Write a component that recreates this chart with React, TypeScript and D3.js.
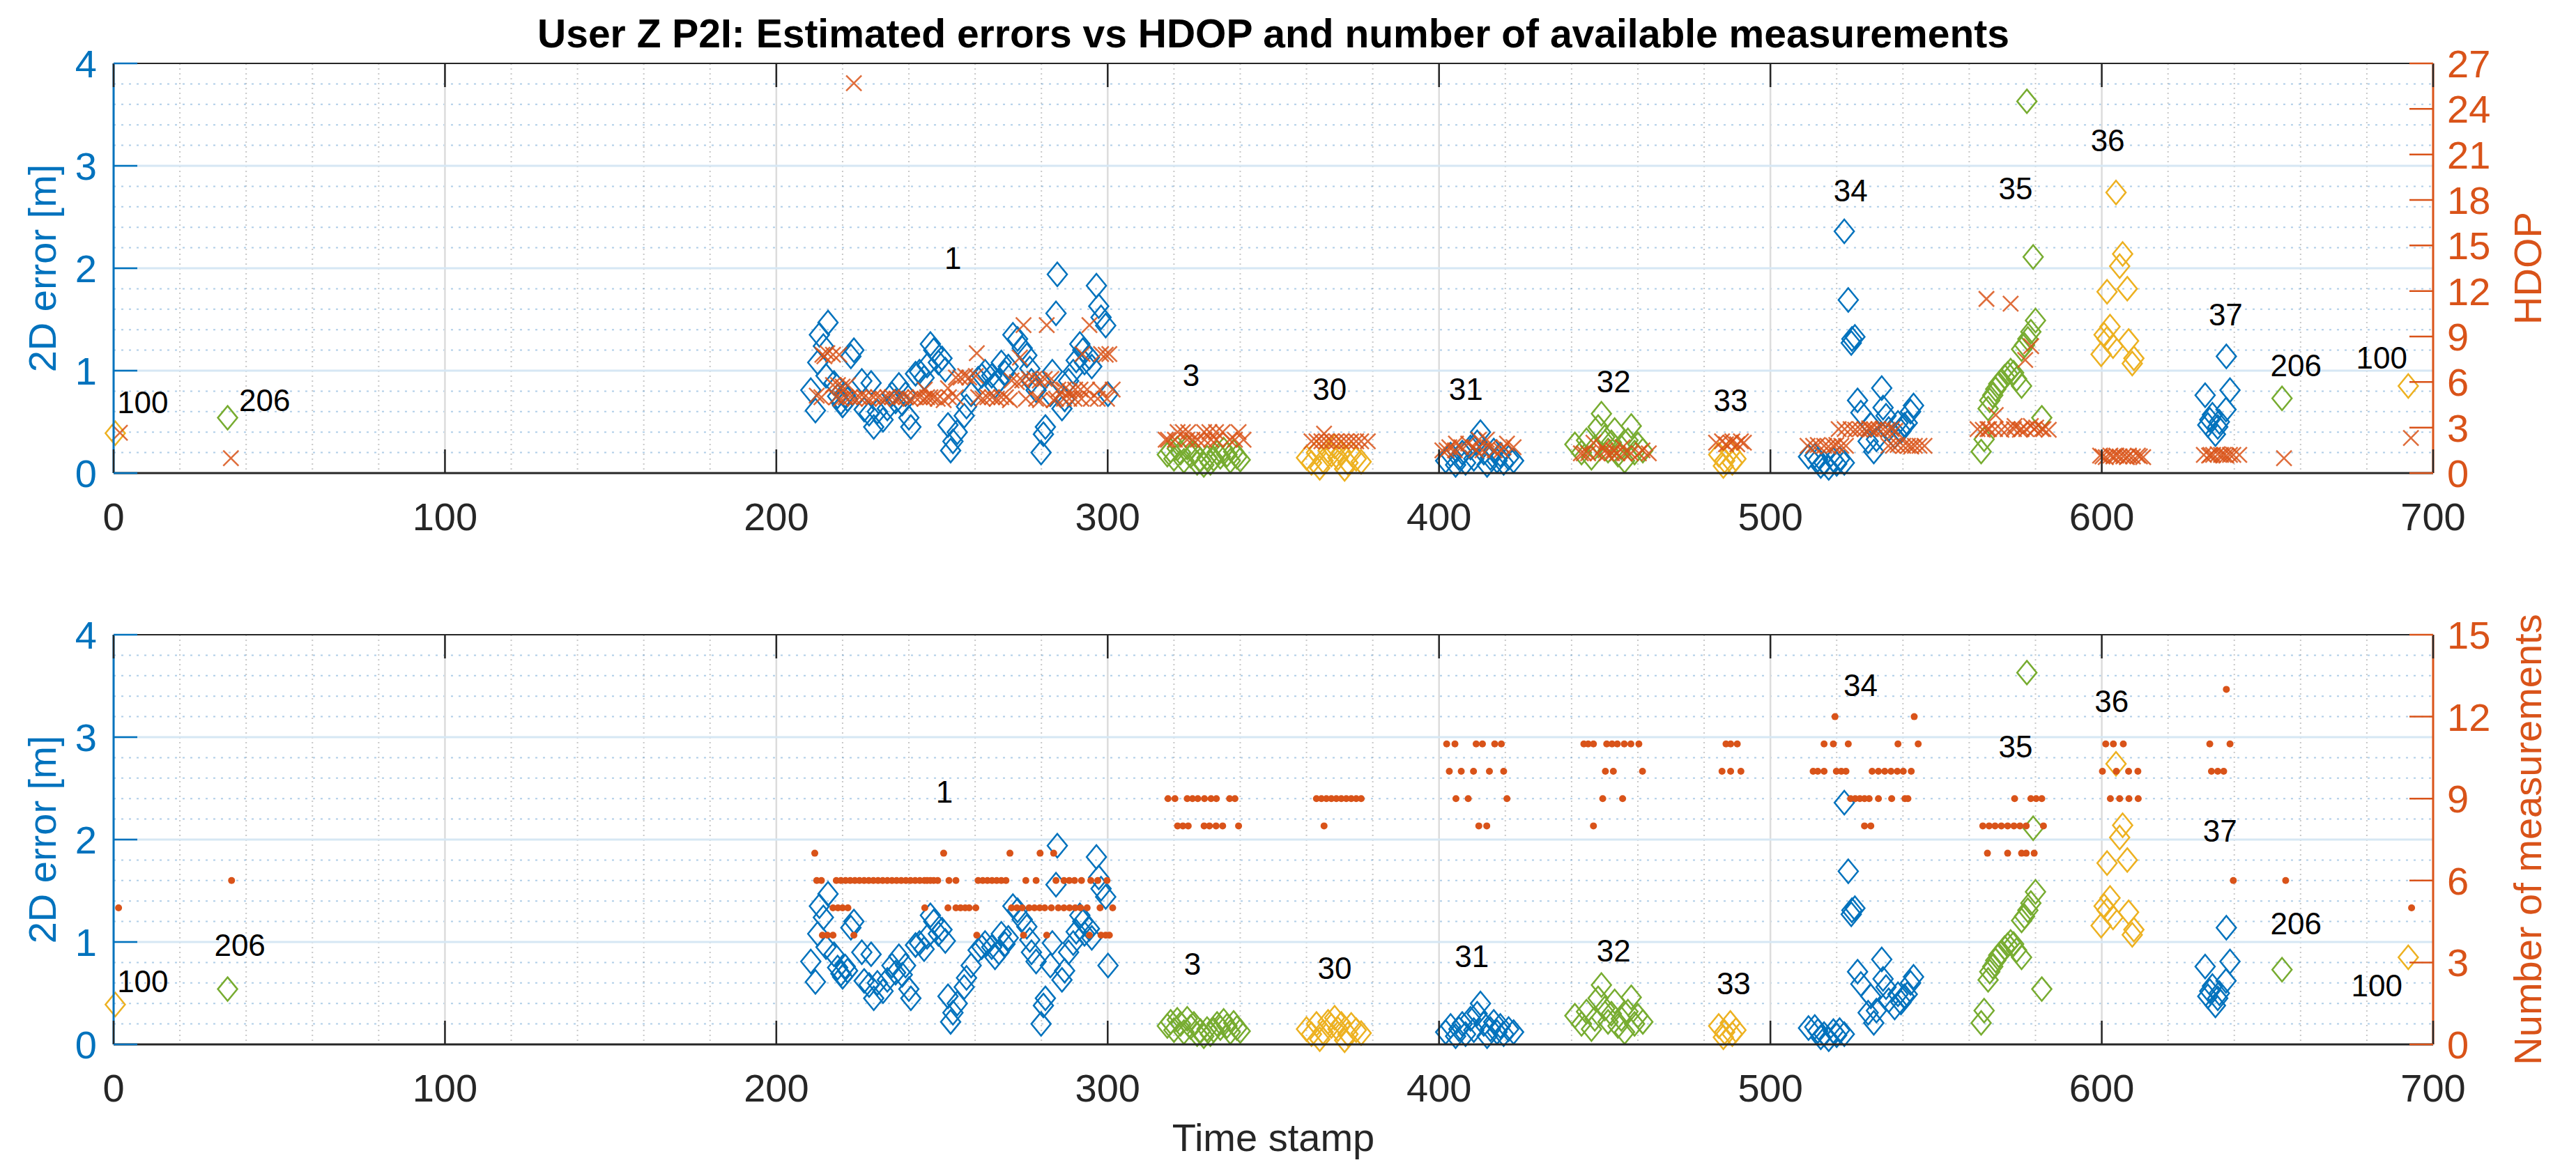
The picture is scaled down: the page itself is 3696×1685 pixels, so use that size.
import * as d3 from 'd3';
import React, { useEffect, useRef } from 'react';

const WIDTH = 3696;
const HEIGHT = 1685;

const TITLE = "User Z P2I: Estimated errors vs HDOP and number of available measurements";
const X_LABEL = "Time stamp";
const Y_LEFT_LABEL = "2D error [m]";
const Y_RIGHT_TOP_LABEL = "HDOP";
const Y_RIGHT_BOTTOM_LABEL = "Number of measurements";

const X_TICKS = [0, 100, 200, 300, 400, 500, 600, 700];
const ERR_TICKS = [0, 1, 2, 3, 4];
const HDOP_TICKS = [0, 3, 6, 9, 12, 15, 18, 21, 24, 27];
const MEAS_TICKS = [0, 3, 6, 9, 12, 15];

// 2D error per group: [time stamp, error in m]
const errG100a: number[][] = [[0.5, 0.39]];
const errG206a: number[][] = [[34.4, 0.54]];
const errG1: number[][] = [
  [211.8, 0.61], [210.4, 0.81], [212.5, 1.08], [213, 1.35], [215.6, 1.47], [214.2, 1.24], [215, 0.95],
  [217.4, 0.88], [218.5, 0.75], [219.5, 0.69], [220.8, 0.76], [220, 0.66], [221.5, 0.72], [223.4, 1.2],
  [222.5, 1.14], [225.8, 0.9], [226.5, 0.62], [228.6, 0.88], [228, 0.58], [229.4, 0.45], [230.5, 0.6],
  [232.2, 0.52], [233.5, 0.63], [234.9, 0.77], [236, 0.7], [237, 0.86], [238, 0.68], [239, 0.77],
  [240.6, 0.45], [240, 0.54], [242, 0.97], [243.2, 0.99], [244.6, 0.93], [245.5, 1.05], [246.5, 1.26],
  [247.5, 1.2], [248.9, 1.08], [250, 1.12], [251, 1.01], [251.8, 0.47], [253.3, 0.31], [252.6, 0.22],
  [254.6, 0.4], [256.7, 0.56], [257.4, 0.65], [258.8, 0.77], [260.9, 0.92], [262, 0.95], [263, 0.99],
  [265, 0.95], [266, 0.85], [267.2, 0.9], [267.9, 1.08], [269, 0.98], [270, 1.04], [271.4, 1.35],
  [272.8, 1.31], [274.2, 1.22], [275.6, 1.15], [276.5, 1.02], [277, 0.9], [278.4, 0.81], [281.2, 0.45],
  [280.6, 0.38], [279.9, 0.2], [282.7, 0.77], [284.8, 1.94], [284.4, 1.56], [283.3, 0.99], [286.2, 0.63],
  [287, 0.72], [288.2, 0.9], [289.6, 0.99], [290.5, 1.1], [291.6, 1.26], [292.5, 1.2], [293, 1.08],
  [294.5, 1.13], [295.2, 1.04], [296.6, 1.83], [297.3, 1.63], [298, 1.52], [299.4, 1.44], [300.1, 0.77],
];
const errG3: number[][] = [
  [318, 0.18], [319, 0.22], [320, 0.14], [321, 0.24], [322, 0.2], [323, 0.12], [324, 0.25], [325, 0.17],
  [326, 0.2], [327, 0.1], [328, 0.13], [329, 0.08], [330, 0.15], [331, 0.1], [332, 0.14], [333, 0.2],
  [334, 0.16], [335, 0.23], [336, 0.18], [337, 0.12], [338, 0.21], [339, 0.16], [340, 0.13],
];
const errG30: number[][] = [
  [360, 0.15], [361.5, 0.1], [363, 0.2], [364, 0.05], [365, 0.12], [366.5, 0.22], [367.5, 0.18],
  [368.5, 0.26], [369.5, 0.15], [370.5, 0.2], [371.5, 0.04], [372.5, 0.1], [373.5, 0.19], [375, 0.14],
  [376.5, 0.11],
];
const errG31: number[][] = [
  [402, 0.12], [403.5, 0.18], [405, 0.08], [406, 0.15], [407, 0.2], [408, 0.1], [409.5, 0.25],
  [410.5, 0.14], [411.5, 0.3], [412.5, 0.4], [413.5, 0.2], [414.5, 0.08], [415.5, 0.15], [416.5, 0.22],
  [417.5, 0.12], [418.5, 0.18], [419.5, 0.1], [421, 0.15], [422.5, 0.12],
];
const errG32: number[][] = [
  [441, 0.28], [443, 0.2], [444.5, 0.32], [446, 0.15], [447, 0.25], [448, 0.45], [449, 0.58],
  [450, 0.35], [451, 0.22], [452, 0.3], [453, 0.42], [454, 0.18], [455, 0.25], [456, 0.12],
  [457, 0.32], [458, 0.46], [459, 0.2], [460, 0.28], [461.5, 0.22],
];
const errG33: number[][] = [
  [484.4, 0.18], [485.8, 0.07], [486.2, 0.12], [487.9, 0.21], [488.5, 0.1], [489.6, 0.14],
];
const errG34: number[][] = [
  [511.5, 0.16], [513.4, 0.17], [514.3, 0.13], [515.2, 0.07], [516.2, 0.1], [517.6, 0.05], [519, 0.13],
  [520, 0.09], [520.9, 0.14], [522.3, 0.1], [522.3, 2.36], [523.5, 1.69], [524.4, 1.27], [524.6, 1.31],
  [525.5, 1.33], [526.3, 0.71], [527.3, 0.59], [529.5, 0.31], [530.3, 0.47], [531.2, 0.21], [532, 0.33],
  [533.6, 0.83], [534, 0.64], [534.9, 0.56], [535.7, 0.43], [537.5, 0.36], [538.5, 0.49], [539.4, 0.41],
  [540.4, 0.47], [541.3, 0.49], [542.3, 0.6], [543.2, 0.66],
];
const errG35: number[][] = [
  [563.6, 0.21], [564.5, 0.33], [565.7, 0.63], [566.2, 0.71], [567.1, 0.76], [568, 0.82], [568.9, 0.87],
  [569.8, 0.9], [570.7, 0.94], [571.6, 0.97], [572.5, 1.0], [573.4, 0.98], [574.3, 0.92], [575.8, 0.85],
  [575.8, 1.21], [576.7, 1.25], [577.7, 1.31], [578.6, 1.38], [580, 1.49], [579.3, 2.11], [577.4, 3.63],
  [581.9, 0.54],
];
const errG36: number[][] = [
  [599.8, 1.16], [600.7, 1.35], [601.6, 1.31], [601.6, 1.77], [602.5, 1.43], [603.4, 1.24], [604.3, 2.74],
  [605.4, 2.02], [606.3, 2.14], [607.7, 1.8], [608.1, 1.29], [609.2, 1.07], [609.7, 1.12],
];
const errG37: number[][] = [
  [631.2, 0.76], [632, 0.47], [632.6, 0.52], [633.4, 0.57], [634.3, 0.38], [635, 0.45], [635.5, 0.5],
  [637.5, 0.62], [637.6, 1.14], [638.7, 0.81],
];
const errG206b: number[][] = [[654.4, 0.73]];
const errG100b: number[][] = [[692.5, 0.85]];

const GROUP_NAMES = ["100", "206", "1", "3", "30", "31", "32", "33", "34", "35", "36", "37", "206", "100"];
const GROUP_ERRORS = [errG100a, errG206a, errG1, errG3, errG30, errG31, errG32, errG33, errG34, errG35, errG36, errG37, errG206b, errG100b];

// group label anchors [time stamp, error]
const LABEL_POS_TOP: number[][] = [
  [8.8, 0.69], [45.6, 0.71], [253.3, 2.1], [325.2, 0.96], [367, 0.82], [408.1, 0.82], [452.7, 0.9],
  [488, 0.71], [524.2, 2.76], [574, 2.78], [601.8, 3.25], [637.4, 1.55], [658.6, 1.05], [684.5, 1.13],
];
const LABEL_POS_BOTTOM: number[][] = [
  [8.8, 0.62], [38.1, 0.97], [250.7, 2.47], [325.6, 0.79], [368.5, 0.75], [409.9, 0.86], [452.7, 0.92],
  [488.9, 0.6], [527.2, 3.51], [574, 2.91], [603, 3.35], [635.7, 2.09], [658.6, 1.18], [683, 0.58],
];

// HDOP: [time stamp, HDOP]
const hdopStart: number[][] = [[1.9, 2.66], [35.4, 0.98]];
const hdopG1: number[][] = [
  [212.2, 5.1], [213.6, 5.0], [218.1, 5.0], [219.5, 4.9], [220.9, 5.0], [222.3, 5.0], [223.7, 4.9],
  [225.1, 5.0], [226.5, 5.0], [227.9, 4.9], [229.3, 5.0], [230.7, 5.0], [232.1, 4.9], [233.5, 5.0],
  [234.9, 5.0], [236.3, 4.9], [237.7, 5.0], [239.1, 5.0], [240.5, 4.9], [241.9, 5.0], [243.3, 5.0],
  [244.7, 4.9], [245.5, 5.0], [246.5, 5.0], [247.5, 5.0], [248.7, 4.9], [250.5, 4.8], [252.1, 5.0],
  [254.2, 5.0], [260.9, 5.0], [262.3, 4.9], [263.7, 5.0], [265.1, 5.0], [266.5, 4.9], [267.9, 5.0],
  [269.3, 5.0], [270.5, 4.8], [275.3, 4.9], [278.4, 4.9], [279.6, 4.8], [283.7, 4.8], [284.4, 4.9],
  [286.8, 4.9], [288.4, 4.9], [290, 4.9], [292.1, 4.9], [294.9, 4.9], [297, 4.9], [299.8, 4.9],
  [217.1, 5.8], [218.6, 5.8], [220, 5.7], [221.6, 5.8], [244.8, 5.5], [251.8, 5.6], [254.2, 6.3],
  [255.6, 6.3], [257, 6.4], [258.2, 6.3], [260.2, 6.4], [271, 6.1], [272.6, 6.0], [274.2, 6.1],
  [276.3, 6.2], [277.9, 6.2], [279.5, 6.1], [281, 6.2], [283, 6.2], [285.1, 5.5], [286.8, 5.5],
  [288.5, 5.4], [290.2, 5.5], [291.8, 5.5], [293.8, 5.5], [297.7, 5.5], [301.5, 5.5],
  [213.9, 7.8], [214.5, 7.7], [215.4, 7.9], [217.1, 7.8], [219, 7.8], [223.4, 25.7], [260.5, 7.9],
  [273.5, 7.6], [274.6, 9.75], [281.6, 9.75], [294.5, 9.75], [292.4, 7.85], [298, 7.85], [299.4, 7.8],
  [300.5, 7.85],
];
const hdopG3: number[][] = [
  [317.5, 2.2], [318.2, 2.2], [320.3, 2.2], [321.1, 2.7], [322.7, 2.7], [324, 2.2], [324.3, 2.7],
  [325.6, 2.2], [327.2, 2.2], [329.1, 2.7], [329.2, 2.2], [330.7, 2.7], [331.2, 2.2], [332.7, 2.7],
  [332.8, 2.2], [334.7, 2.7], [336.8, 2.2], [338.4, 2.2], [339.5, 2.7], [341, 2.2],
];
const hdopG30: number[][] = [
  [361.5, 2.1], [363, 2.1], [364.5, 2.1], [365.3, 2.6], [366, 2.1], [367.5, 2.1], [369, 2.1],
  [370.5, 2.1], [372, 2.1], [373.5, 2.1], [375, 2.1], [376.5, 2.1], [378.5, 2.1],
];
const hdopG31: number[][] = [
  [401, 1.5], [402.3, 1.5], [403.1, 1.7], [404.8, 1.5], [405.1, 1.95], [406.7, 1.7], [408.8, 1.95],
  [410.4, 1.7], [411.2, 1.5], [412, 2.2], [413.1, 1.5], [414.4, 2.2], [415.2, 1.7], [416.8, 1.5],
  [418.8, 1.5], [419.5, 1.7], [420.5, 1.95], [422.5, 1.7],
];
const hdopG32: number[][] = [
  [442.8, 1.3], [443.7, 1.3], [445, 1.3], [446.6, 2.0], [447.8, 1.3], [449.4, 1.7], [450.2, 1.5],
  [450.6, 1.3], [452.2, 1.3], [452.6, 1.5], [453.8, 1.3], [455.4, 1.7], [455.9, 1.3], [457.9, 1.3],
  [460.3, 1.3], [461.4, 1.5], [463.3, 1.3],
];
const hdopG33: number[][] = [
  [483.6, 2.0], [485.4, 2.1], [486.6, 1.9], [488, 2.0], [488.5, 2.1], [490, 1.9], [491.1, 2.1], [492, 2.0],
];
const hdopG34: number[][] = [
  [511.2, 1.8], [512.9, 1.8], [514.3, 1.85], [516.2, 1.8], [517.5, 1.75], [519, 1.8], [519.9, 1.85],
  [521.4, 1.8], [522.8, 1.8], [520.6, 2.9], [522.4, 2.9], [524.2, 2.9], [525.6, 2.85], [527, 2.9],
  [528.4, 2.9], [529.8, 2.95], [530.3, 2.9], [531.4, 2.85], [532.6, 2.9], [534, 2.9], [535.4, 2.85],
  [536.6, 2.9], [537.7, 2.8], [535.6, 1.8], [537, 1.8], [538.4, 1.85], [540.1, 1.8], [541.5, 1.8],
  [542.5, 1.75], [543.6, 1.8], [545, 1.8], [546.5, 1.8],
];
const hdopG35: number[][] = [
  [565.2, 11.48], [572.5, 11.16], [578.7, 8.36], [576.9, 7.46], [568, 3.83], [562.5, 2.9], [564.1, 2.85],
  [565.5, 2.9], [566, 2.9], [567.8, 2.9], [569.7, 2.85], [571.6, 2.9], [573.5, 2.9], [573.7, 3.1],
  [575.3, 2.85], [575.8, 2.9], [577.2, 2.9], [578.6, 3.1], [579.6, 2.9], [580.2, 3.0], [581.9, 2.9],
  [582.4, 2.9], [584, 2.85],
];
const hdopG36: number[][] = [
  [599.5, 1.15], [600.2, 1.1], [601.2, 1.05], [602.6, 1.15], [603.5, 1.1], [604.4, 1.15], [605.4, 1.1],
  [606.5, 1.1], [607.6, 1.05], [608.2, 1.15], [609.4, 1.1], [610.9, 1.15], [611.5, 1.1], [612.5, 1.05],
];
const hdopG37: number[][] = [
  [630.8, 1.2], [632.4, 1.15], [632.8, 1.2], [633.6, 1.2], [635, 1.25], [636, 1.2], [636.8, 1.2],
  [637.6, 1.15], [638.7, 1.2], [639.7, 1.2], [641.5, 1.2],
];
const hdopEnd: number[][] = [[655, 0.98], [693.3, 2.31]];
const HDOP_SERIES = [hdopStart, hdopG1, hdopG3, hdopG30, hdopG31, hdopG32, hdopG33, hdopG34, hdopG35, hdopG36, hdopG37, hdopEnd];

// Number of available measurements: [time stamp, count]
const measStart: number[][] = [[1.5, 5], [35.6, 6]];
const measG1: number[][] = [
  [211.6, 7], [250.5, 7], [270.5, 7], [279.6, 7], [283.7, 7],
  [212.2, 6], [213.6, 6], [218.1, 6], [219.5, 6], [220.9, 6], [222.3, 6], [223.7, 6], [225.1, 6],
  [226.5, 6], [227.9, 6], [229.3, 6], [230.7, 6], [232.1, 6], [233.5, 6], [234.9, 6], [236.3, 6],
  [237.7, 6], [239.1, 6], [240.5, 6], [241.9, 6], [243.3, 6], [244.7, 6], [245.5, 6], [246.5, 6],
  [247.5, 6], [248.7, 6], [252.1, 6], [254.2, 6], [260.9, 6], [262.3, 6], [263.7, 6], [265.1, 6],
  [266.5, 6], [267.9, 6], [269.3, 6], [275.3, 6], [278.4, 6], [284.4, 6], [286.8, 6], [288.4, 6],
  [290, 6], [292.1, 6], [294.9, 6], [297, 6], [299.8, 6],
  [217.1, 5], [218.6, 5], [220, 5], [221.6, 5], [244.8, 5], [251.8, 5], [254.2, 5], [255.6, 5],
  [257, 5], [258.2, 5], [260.2, 5], [271, 5], [272.6, 5], [274.2, 5], [276.3, 5], [277.9, 5],
  [279.5, 5], [281, 5], [283, 5], [285.1, 5], [286.8, 5], [288.5, 5], [290.2, 5], [291.8, 5],
  [293.8, 5], [297.7, 5], [301.5, 5],
  [213.9, 4], [215.4, 4], [217.1, 4], [223.4, 4], [260.5, 4], [274.6, 4], [281.6, 4], [294.5, 4],
  [298, 4], [299.4, 4], [300.5, 4],
];
const measG3: number[][] = [
  [318.2, 9], [320.3, 9], [324, 9], [325.6, 9], [327.2, 9], [329.2, 9], [331.2, 9], [332.8, 9],
  [336.8, 9], [338.4, 9], [321.1, 8], [322.7, 8], [324.3, 8], [329.1, 8], [330.7, 8], [332.7, 8],
  [334.7, 8], [339.5, 8],
];
const measG30: number[][] = [
  [363, 9], [364.5, 9], [366, 9], [367.5, 9], [369, 9], [370.5, 9], [372, 9], [373.5, 9], [375, 9],
  [376.5, 9], [365.3, 8],
];
const measG31: number[][] = [
  [402.3, 11], [404.8, 11], [411.2, 11], [413.1, 11], [416.8, 11], [418.8, 11],
  [403.1, 10], [406.7, 10], [410.4, 10], [415.2, 10], [419.5, 10],
  [405.1, 9], [408.8, 9], [420.5, 9], [412, 8], [414.4, 8],
];
const measG32: number[][] = [
  [443.7, 11], [445, 11], [446.6, 11], [450.6, 11], [452.2, 11], [453.8, 11], [455.9, 11], [457.9, 11],
  [460.3, 11], [450.2, 10], [452.6, 10], [461.4, 10], [449.4, 9], [455.4, 9], [446.6, 8],
];
const measG33: number[][] = [
  [486.6, 11], [488, 11], [490, 11], [485.4, 10], [488, 10], [491.1, 10],
];
const measG34: number[][] = [
  [519.5, 12], [543.4, 12], [516.2, 11], [519, 11], [523.5, 11], [538.5, 11], [544.6, 11],
  [512.9, 10], [514.3, 10], [516.2, 10], [519.9, 10], [521.4, 10], [522.8, 10], [530.7, 10],
  [532.6, 10], [534.5, 10], [536.4, 10], [538.3, 10], [540.1, 10], [542.5, 10],
  [524.2, 9], [525.6, 9], [527, 9], [528.4, 9], [529.8, 9], [532.6, 9], [536.6, 9], [540.6, 9],
  [541.5, 9], [528.4, 8], [530.3, 8],
];
const measG35: number[][] = [
  [573.7, 9], [578.6, 9], [580.2, 9], [581.9, 9],
  [564.1, 8], [566, 8], [567.8, 8], [569.7, 8], [571.6, 8], [573.5, 8], [575.3, 8], [577.2, 8], [582.4, 8],
  [565.5, 7], [571.6, 7], [575.8, 7], [577.2, 7], [579.6, 7],
];
const measG36: number[][] = [
  [601.2, 11], [603.5, 11], [606.5, 11], [600.2, 10], [604.4, 10], [608.1, 10], [610.9, 10],
  [602.6, 9], [605.4, 9], [608.2, 9], [611, 9],
];
const measG37: number[][] = [
  [637.6, 13], [632.6, 11], [638.7, 11], [633.1, 10], [635, 10], [636.8, 10], [639.7, 6],
];
const measEnd: number[][] = [[655.5, 6], [693.5, 5]];
const MEAS_SERIES = [measStart, measG1, measG3, measG30, measG31, measG32, measG33, measG34, measG35, measG36, measG37, measEnd];

// styling
const BLUE = "#0072BD";
const ORANGE = "#D95319";
const YELLOW = "#EDB120";
const GREEN = "#77AC30";
const GROUP_COLORS = [YELLOW, GREEN, BLUE, GREEN, YELLOW, BLUE, GREEN, YELLOW, BLUE, GREEN, YELLOW, BLUE, GREEN, YELLOW];
const FONT = "'Liberation Sans', Arial, Helvetica, sans-serif";
const AXIS_DARK = "#262626";
const TICK_LEN = 34;

const MARGIN = { left: 163, right: 3491 };
const PANELS = [
  { top: 91, bottom: 679 },
  { top: 911, bottom: 1499 },
];

const App: React.FC = () => {
  const svgRef = useRef<SVGSVGElement>(null);

  useEffect(() => {
    if (!svgRef.current) { return; }
    const svg = d3.select(svgRef.current);
    svg.selectAll("*").remove();

    svg.append("rect").attr("width", WIDTH).attr("height", HEIGHT).attr("fill", "#ffffff");

    const xScale = d3.scaleLinear().domain([0, 700]).range([MARGIN.left, MARGIN.right]);

    const drawPanel = (
      panelIdx: number,
      rightDomain: number,
      rightTicks: number[],
      rightLabel: string,
      rightSeries: number[][][],
      rightMarker: "x" | "dot",
      labelPos: number[][],
      showXLabel: boolean
    ) => {
      const { top, bottom } = PANELS[panelIdx];
      const yLeft = d3.scaleLinear().domain([0, 4]).range([bottom, top]);
      const yRight = d3.scaleLinear().domain([0, rightDomain]).range([bottom, top]);
      const g = svg.append("g");

      // minor grid
      const minorX = d3.range(20, 700, 20).filter(v => v % 100 !== 0);
      g.selectAll(".minor-x")
        .data(minorX)
        .enter().append("line")
        .attr("x1", d => xScale(d)).attr("x2", d => xScale(d))
        .attr("y1", top).attr("y2", bottom)
        .attr("stroke", "#9a9a9a").attr("stroke-opacity", 0.55)
        .attr("stroke-width", 2).attr("stroke-dasharray", "2,5");

      const minorY = d3.range(1, 20).map(i => i * 0.2).filter(v => Math.abs(v - Math.round(v)) > 0.01);
      g.selectAll(".minor-y")
        .data(minorY)
        .enter().append("line")
        .attr("x1", MARGIN.left).attr("x2", MARGIN.right)
        .attr("y1", d => yLeft(d)).attr("y2", d => yLeft(d))
        .attr("stroke", "#6fa6d6").attr("stroke-opacity", 0.55)
        .attr("stroke-width", 2).attr("stroke-dasharray", "3,8");

      // major grid
      g.selectAll(".major-x")
        .data(X_TICKS.slice(1, -1))
        .enter().append("line")
        .attr("x1", d => xScale(d)).attr("x2", d => xScale(d))
        .attr("y1", top).attr("y2", bottom)
        .attr("stroke", "#dcdcdc").attr("stroke-width", 2.5);

      g.selectAll(".major-y")
        .data(ERR_TICKS.slice(1, -1))
        .enter().append("line")
        .attr("x1", MARGIN.left).attr("x2", MARGIN.right)
        .attr("y1", d => yLeft(d)).attr("y2", d => yLeft(d))
        .attr("stroke", "#d6e7f4").attr("stroke-width", 3);

      // diamonds (2D error)
      const diamond = "M0,-17L14,0L0,17L-14,0Z";
      GROUP_ERRORS.forEach((pts, gi) => {
        g.append("g").selectAll("path")
          .data(pts)
          .enter().append("path")
          .attr("d", diamond)
          .attr("transform", d => `translate(${xScale(d[0])},${yLeft(d[1])})`)
          .attr("fill", "none")
          .attr("stroke", GROUP_COLORS[gi])
          .attr("stroke-width", 2.5);
      });

      // right-axis markers
      rightSeries.forEach(pts => {
        if (rightMarker === "x") {
          g.append("g").selectAll("path")
            .data(pts)
            .enter().append("path")
            .attr("d", "M-11,-11L11,11M-11,11L11,-11")
            .attr("transform", d => `translate(${xScale(d[0])},${yRight(d[1])})`)
            .attr("fill", "none")
            .attr("stroke", ORANGE)
            .attr("stroke-opacity", 0.85)
            .attr("stroke-width", 2.5);
        } else {
          g.append("g").selectAll("circle")
            .data(pts)
            .enter().append("circle")
            .attr("cx", d => xScale(d[0]))
            .attr("cy", d => yRight(d[1]))
            .attr("r", 5)
            .attr("fill", ORANGE);
        }
      });

      // group labels
      g.selectAll(".grp-label")
        .data(labelPos)
        .enter().append("text")
        .attr("x", d => xScale(d[0]))
        .attr("y", d => yLeft(d[1]))
        .attr("dy", "0.36em")
        .attr("text-anchor", "middle")
        .style("font-family", FONT)
        .style("font-size", "44px")
        .attr("fill", "#000000")
        .text((_, i) => GROUP_NAMES[i]);

      // box
      g.append("line")
        .attr("x1", MARGIN.left).attr("x2", MARGIN.right)
        .attr("y1", top).attr("y2", top)
        .attr("stroke", AXIS_DARK).attr("stroke-width", 2);
      g.append("line")
        .attr("x1", MARGIN.left).attr("x2", MARGIN.right)
        .attr("y1", bottom).attr("y2", bottom)
        .attr("stroke", AXIS_DARK).attr("stroke-width", 3);
      g.append("line")
        .attr("x1", MARGIN.left).attr("x2", MARGIN.left)
        .attr("y1", top).attr("y2", bottom)
        .attr("stroke", BLUE).attr("stroke-width", 3);
      g.append("line")
        .attr("x1", MARGIN.right).attr("x2", MARGIN.right)
        .attr("y1", top).attr("y2", bottom)
        .attr("stroke", ORANGE).attr("stroke-width", 3);

      // x ticks (bottom and top)
      X_TICKS.forEach(t => {
        const xp = xScale(t);
        g.append("line").attr("x1", xp).attr("x2", xp).attr("y1", bottom).attr("y2", bottom - TICK_LEN)
          .attr("stroke", AXIS_DARK).attr("stroke-width", 2.5);
        g.append("line").attr("x1", xp).attr("x2", xp).attr("y1", top).attr("y2", top + TICK_LEN)
          .attr("stroke", AXIS_DARK).attr("stroke-width", 2.5);
        g.append("text")
          .attr("x", xp).attr("y", bottom + 82)
          .attr("text-anchor", "middle")
          .style("font-family", FONT).style("font-size", "56px")
          .attr("fill", AXIS_DARK)
          .text(`${t}`);
      });

      // left ticks
      ERR_TICKS.forEach(v => {
        const yp = yLeft(v);
        g.append("line").attr("x1", MARGIN.left).attr("x2", MARGIN.left + TICK_LEN).attr("y1", yp).attr("y2", yp)
          .attr("stroke", BLUE).attr("stroke-width", 2.5);
        g.append("text")
          .attr("x", MARGIN.left - 24).attr("y", yp + 20)
          .attr("text-anchor", "end")
          .style("font-family", FONT).style("font-size", "56px")
          .attr("fill", BLUE)
          .text(`${v}`);
      });

      // right ticks
      rightTicks.forEach(v => {
        const yp = yRight(v);
        g.append("line").attr("x1", MARGIN.right - TICK_LEN).attr("x2", MARGIN.right).attr("y1", yp).attr("y2", yp)
          .attr("stroke", ORANGE).attr("stroke-width", 2.5);
        g.append("text")
          .attr("x", MARGIN.right + 20).attr("y", yp + 20)
          .attr("text-anchor", "start")
          .style("font-family", FONT).style("font-size", "56px")
          .attr("fill", ORANGE)
          .text(`${v}`);
      });

      // axis labels
      const mid = (top + bottom) / 2;
      g.append("text")
        .attr("transform", `translate(80,${mid}) rotate(-90)`)
        .attr("text-anchor", "middle")
        .style("font-family", FONT).style("font-size", "56px")
        .attr("fill", BLUE)
        .text(Y_LEFT_LABEL);
      g.append("text")
        .attr("transform", `translate(3646,${mid}) rotate(-90)`)
        .attr("text-anchor", "middle")
        .style("font-family", FONT).style("font-size", "56px")
        .attr("fill", ORANGE)
        .text(rightLabel);

      if (showXLabel) {
        g.append("text")
          .attr("x", (MARGIN.left + MARGIN.right) / 2).attr("y", 1652)
          .attr("text-anchor", "middle")
          .style("font-family", FONT).style("font-size", "56px")
          .attr("fill", AXIS_DARK)
          .text(X_LABEL);
      }
    };

    drawPanel(0, 27, HDOP_TICKS, Y_RIGHT_TOP_LABEL, HDOP_SERIES, "x", LABEL_POS_TOP, false);
    drawPanel(1, 15, MEAS_TICKS, Y_RIGHT_BOTTOM_LABEL, MEAS_SERIES, "dot", LABEL_POS_BOTTOM, true);

    svg.append("text")
      .attr("x", (MARGIN.left + MARGIN.right) / 2).attr("y", 68)
      .attr("text-anchor", "middle")
      .style("font-family", FONT).style("font-size", "57px").style("font-weight", "bold")
      .attr("fill", "#000000")
      .text(TITLE);
  }, []);

  return (
    <div style={{ position: "absolute", left: 0, top: 0, width: WIDTH, height: HEIGHT }}>
      <svg ref={svgRef} width={WIDTH} height={HEIGHT} style={{ display: "block" }} />
    </div>
  );
};

export default App;
